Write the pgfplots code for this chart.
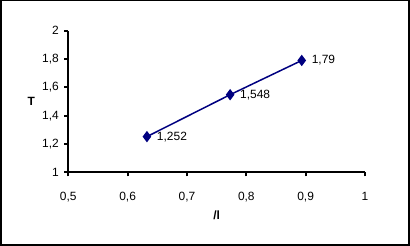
\documentclass[border=0pt]{standalone}
\usepackage{fontspec}
\setmainfont{Liberation Sans}
\usepackage{pgfplots}
\pgfplotsset{compat=1.18}
\definecolor{navyc}{RGB}{0,0,128}
\begin{document}
\begin{tikzpicture}[x=1bp,y=1bp]
\useasboundingbox (0,0) rectangle (410,246);
\draw[line width=1.6bp] (0.8,0.8) rectangle (409.2,245.4);
\begin{axis}[
  at={(68.3bp,73.7bp)}, anchor=south west,
  width=296.7bp, height=141.6bp, scale only axis,
  xmin=0.5, xmax=1, ymin=1, ymax=2,
  axis x line=bottom, axis y line=left,
  axis line style={line width=2bp,-},
  xtick={0.5,0.6,0.7,0.8,0.9,1},
  ytick={1,1.2,1.4,1.6,1.8,2},
  tick style={black,line width=1.8bp},
  major tick length=4bp, tick align=outside,
  ticklabel style={font=\fontsize{12}{14}\selectfont},
  xticklabel style={yshift=-12bp},
  yticklabel style={xshift=-2bp},
  /pgf/number format/.cd, use comma, assume math mode=true, /pgfplots/.cd,
  xlabel={/l}, ylabel={T},
  every axis x label/.style={at={(rel axis cs:0.5,0)}, yshift=-43bp, anchor=center, font=\bfseries\fontsize{12}{14}\selectfont},
  every axis y label/.style={at={(rel axis cs:0,0.5)}, xshift=-37bp, anchor=center, font=\bfseries\fontsize{12}{14}\selectfont},
  clip=false,
]
\addplot[navyc, line width=1.5bp, mark=diamond*, mark size=4.5bp, mark options={fill=navyc,solid},
  point meta=explicit symbolic,
  nodes near coords, every node near coord/.style={anchor=west, xshift=6bp, font=\fontsize{12}{14}\selectfont, text=black}]
  table[meta=lab] {
x y lab
0.6325 1.252 1,252
0.7727 1.548 1,548
0.8934 1.79 1,79
};
\end{axis}
\end{tikzpicture}
\end{document}
